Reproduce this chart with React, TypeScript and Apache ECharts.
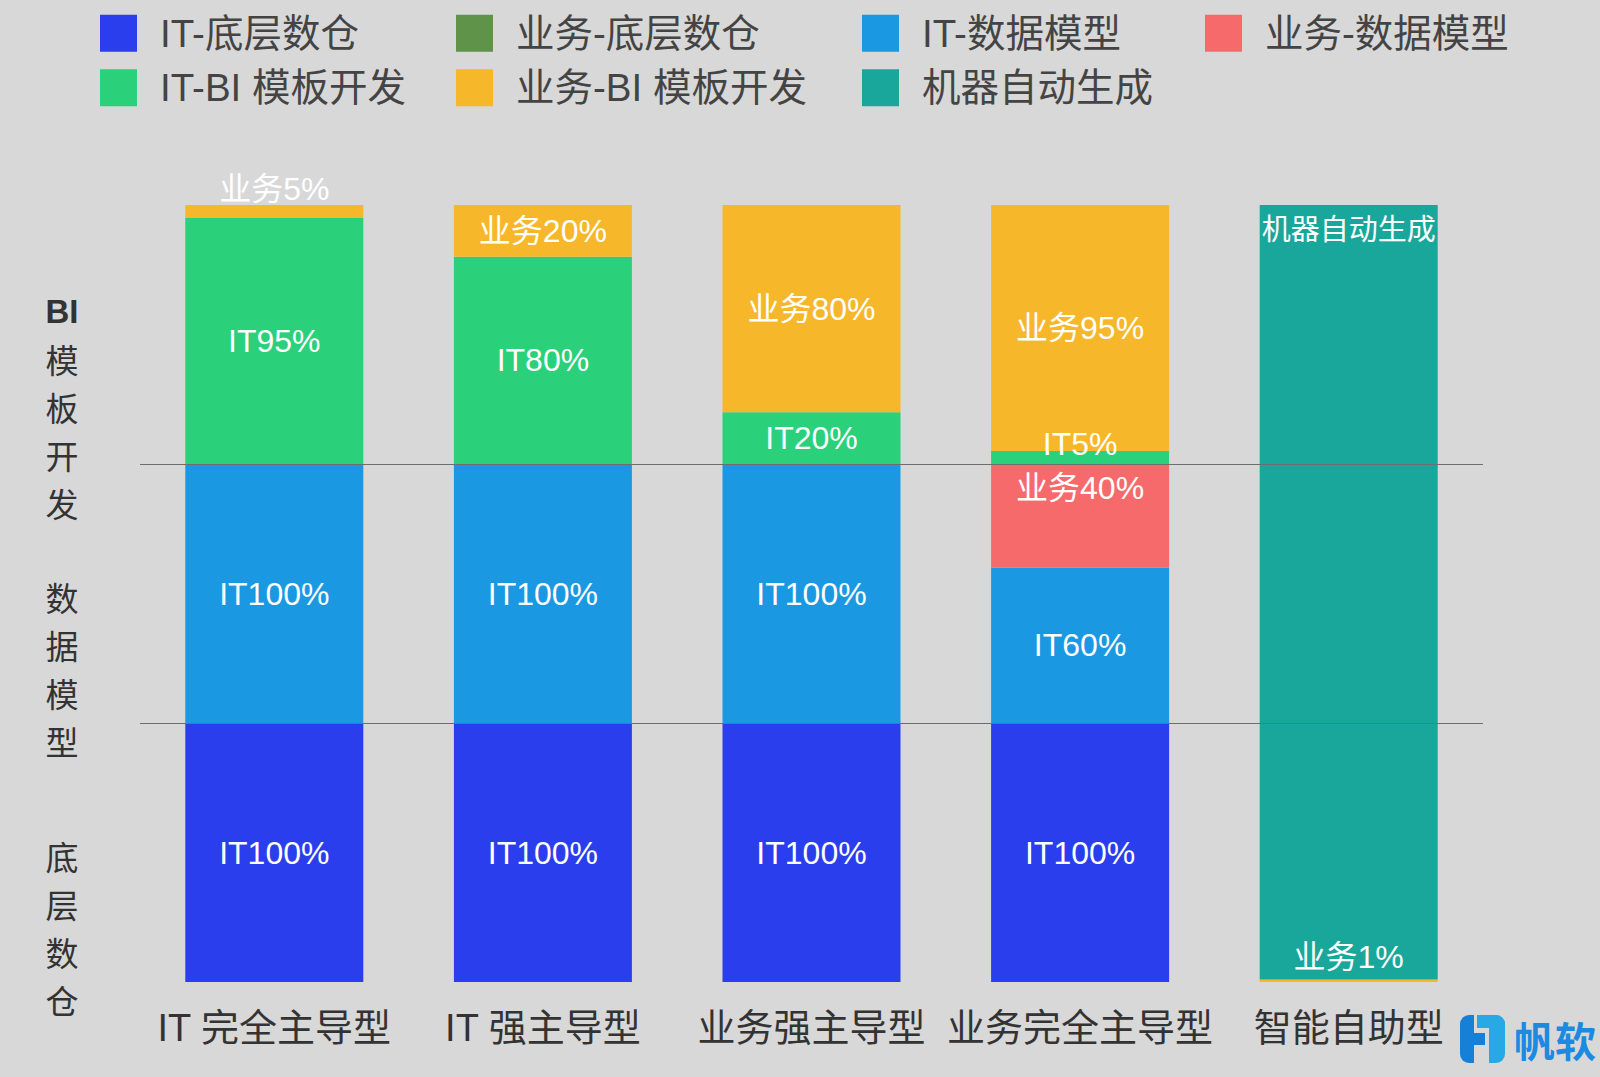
import React, { useEffect, useRef } from "react";
import * as echarts from "echarts";

const categories = ["IT 完全主导型", "IT 强主导型", "业务强主导型", "业务完全主导型", "智能自助型"];
const seriesNames = ["IT-底层数仓", "业务-底层数仓", "IT-数据模型", "业务-数据模型", "IT-BI 模板开发", "业务-BI 模板开发", "机器自动生成"];
const itBase = [100, 100, 100, 100, 0];
const bizBase = [0, 0, 0, 0, 0];
const itModel = [100, 100, 100, 60, 0];
const bizModel = [0, 0, 0, 40, 0];
const itBI = [95, 80, 20, 5, 0];
const bizBI = [5, 20, 80, 95, 1];
const machine = [0, 0, 0, 0, 299];
const layerLabels = ["底层数仓", "数据模型", "BI模板开发"];
const layerLabelValues = [21, 121, 222];
const sectionLines = [100, 200];

const colors = ["#2b3eee", "#5e9349", "#1a99e2", "#f66a6c", "#2bd07a", "#f6b82a", "#19a79c"];
const prefixes = ["IT", "业务", "IT", "业务", "IT", "业务", ""];
const values = [itBase, bizBase, itModel, bizModel, itBI, bizBI, machine];

// per-item label tweaks: key = `${seriesIndex}-${dataIndex}`
const labelTweaks: Record<string, any> = {
  "5-0": { position: "top", distance: 0 },
  "4-3": { position: "inside", offset: [0, -14] },
  "3-3": { position: "insideTop", distance: 8 },
  "6-4": { position: "insideTop", distance: 10, fontSize: 29 },
  "5-4": { position: "top", distance: 6 },
};

export default function App() {
  const ref = useRef<HTMLDivElement>(null);
  useEffect(() => {
    document.body.style.margin = "0";
    const chart = echarts.init(ref.current!, null, { renderer: "svg" });
    const labelFont = "Liberation Sans, Noto Sans CJK SC, sans-serif";

    const series: any[] = values.map((arr, si) => ({
      name: seriesNames[si],
      type: "bar",
      stack: "total",
      barWidth: 178,
      itemStyle: { color: colors[si] },
      label: {
        show: true,
        position: "inside",
        color: "#ffffff",
        fontSize: 32,
        fontFamily: labelFont,
        formatter: (p: any) => (si === 6 ? "机器自动生成" : prefixes[si] + p.value + "%"),
      },
      data: arr.map((v, di) => {
        if (!v) return "-";
        const tw = labelTweaks[`${si}-${di}`];
        return tw ? { value: v, label: tw } : v;
      }),
    }));
    series[0].markLine = {
      silent: true,
      symbol: ["none", "none"],
      label: { show: false },
      lineStyle: { color: "#6e6e6e", width: 1, type: "solid" },
      data: sectionLines.map((y) => ({ yAxis: y })),
    };

    const legendCols = [
      { left: 100, names: [seriesNames[0], seriesNames[4]] },
      { left: 456, names: [seriesNames[1], seriesNames[5]] },
      { left: 862, names: [seriesNames[2], seriesNames[6]] },
      { left: 1205, names: [seriesNames[3]] },
    ];

    const rich = {
      b: { fontWeight: "bold", fontSize: 33, lineHeight: 48, color: "#333333", fontFamily: labelFont },
      n: { fontSize: 33, lineHeight: 48, color: "#333333", fontFamily: "Noto Sans CJK SC" },
    };
    const layerFormatter = (v: number) => {
      const idx = layerLabelValues.indexOf(v);
      if (idx < 0) return "";
      const txt = layerLabels[idx];
      const lines: string[] = [];
      if (txt.startsWith("BI")) {
        lines.push("{b|BI}");
        for (const ch of txt.slice(2)) lines.push(`{n|${ch}}`);
      } else {
        for (const ch of txt) lines.push(`{n|${ch}}`);
      }
      return lines.join("\n");
    };

    chart.setOption({
      animation: false,
      backgroundColor: "#d8d8d8",
      color: colors,
      legend: legendCols.map((c) => ({
        left: c.left,
        top: 14,
        orient: "vertical",
        data: c.names,
        icon: "rect",
        itemWidth: 37,
        itemHeight: 37,
        itemGap: 16,
        padding: 0,
        selectedMode: false,
        textStyle: {
          fontSize: 38.5,
          lineHeight: 37,
          color: "#444444",
          fontFamily: labelFont,
          padding: [0, 0, 0, 18],
        },
      })),
      grid: { left: 140, right: 117, top: 205, bottom: 95 },
      xAxis: {
        type: "category",
        data: categories,
        axisLine: { show: false },
        axisTick: { show: false },
        axisLabel: {
          color: "#333333",
          fontSize: 38,
          margin: 27,
          fontFamily: labelFont,
          interval: 0,
        },
      },
      yAxis: {
        type: "value",
        min: 0,
        max: 300,
        interval: 100,
        axisLine: { show: false },
        axisTick: { show: false },
        splitLine: { show: false },
        axisLabel: {
          customValues: layerLabelValues,
          formatter: layerFormatter,
          align: "center",
          margin: 78,
          rich,
        },
      },
      graphic: [
        { type: "rect", shape: { x: 1460, y: 1015, width: 14, height: 48, r: [9, 0, 0, 9] }, style: { fill: "#1680d6" } },
        { type: "rect", shape: { x: 1460, y: 1033, width: 25, height: 12 }, style: { fill: "#1680d6" } },
        { type: "rect", shape: { x: 1477, y: 1015, width: 28, height: 13, r: [0, 9, 0, 0] }, style: { fill: "#29a8e6" } },
        { type: "rect", shape: { x: 1489, y: 1015, width: 16, height: 48, r: [0, 9, 9, 0] }, style: { fill: "#29a8e6" } },
        {
          type: "text",
          x: 1514,
          y: 1039,
          style: {
            text: "帆软",
            fill: "#1a8be0",
            font: "bold 41px 'Noto Sans CJK SC'",
            verticalAlign: "middle",
          },
        },
      ],
      series,
    });
    return () => chart.dispose();
  }, []);
  return <div ref={ref} style={{ width: 1600, height: 1077 }} />;
}
